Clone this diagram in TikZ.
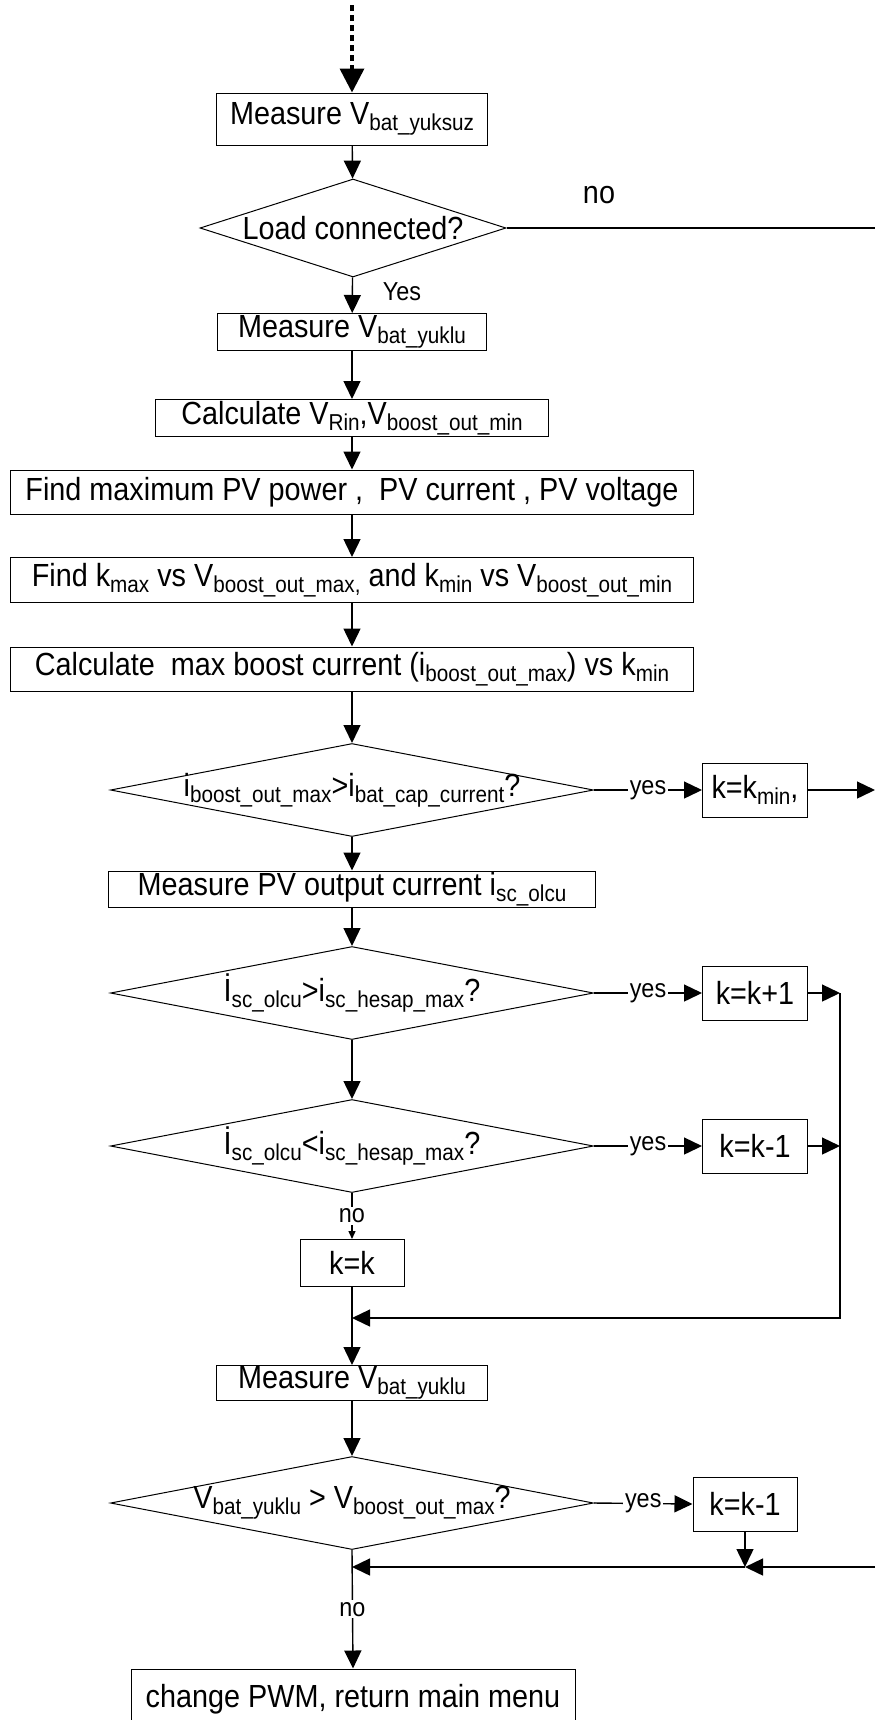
\documentclass[tikz,border=0pt]{standalone}
\usepackage{fontspec}
\setmainfont{Liberation Sans}[FakeStretch=0.9]
\usetikzlibrary{shapes.geometric,arrows.meta}
\newcommand{\sub}[1]{\raisebox{-3pt}{\fontsize{11.5pt}{12pt}\selectfont #1}}

\begin{document}
\begin{tikzpicture}[x=0.5pt,y=-0.5pt,
        font=\fontsize{16pt}{18pt}\selectfont,
        box/.style={draw,line width=0.5pt,inner sep=0pt},
        cond/.style={diamond,draw,line width=0.5pt,inner sep=-4pt,aspect=5.2,
            minimum width=241.5pt,minimum height=46.5pt},
        flow/.style={line width=0.7pt,-{Triangle[length=9pt,width=8.5pt]}},
        lbl/.style={font=\fontsize{13pt}{14pt}\selectfont,fill=white,inner sep=1pt}]
        \useasboundingbox (0,0) rectangle (875,1720);
        % main column
        \node[box,minimum width=135.5pt,minimum height=26pt] (mv1) at (352,119) {Measure V\sub{bat\_yuksuz}};
        \node[cond,aspect=3.1,minimum width=153pt,minimum height=49pt] (load) at (353,228) {Load connected?};
        \node[box,minimum width=134.5pt,minimum height=18.5pt] (mv2) at (352,332) {Measure V\sub{bat\_yuklu}};
        \node[box,minimum width=196.5pt,minimum height=18.5pt] (calc1) at (352,418) {Calculate V\sub{Rin},V\sub{boost\_out\_min}};
        \node[box,minimum width=341.5pt,minimum height=22pt] (pv) at (352,492) {Find maximum PV power ,~~PV current , PV voltage};
        \node[box,minimum width=341.5pt,minimum height=22.5pt] (kfind) at (352,580) {Find k\sub{max} vs V\sub{boost\_out\_max,} and k\sub{min} vs V\sub{boost\_out\_min}};
        \node[box,minimum width=341.5pt,minimum height=22pt] (calc2) at (352,669) {Calculate~~max boost current (i\sub{boost\_out\_max}) vs k\sub{min}};
        \node[cond] (capq) at (352,790) {i\sub{boost\_out\_max}>i\sub{bat\_cap\_current}?};
        \node[box,minimum width=243.5pt,minimum height=18pt] (isc) at (352,889) {Measure PV output current i\sub{sc\_olcu}};
        \node[cond] (gtq) at (352,993) {İ\sub{sc\_olcu}>i\sub{sc\_hesap\_max}?};
        \node[cond] (ltq) at (352,1146) {İ\sub{sc\_olcu}<i\sub{sc\_hesap\_max}?};
        \node[box,minimum width=52pt,minimum height=23.5pt] (keq) at (352,1263) {k=k};
        \node[box,minimum width=135.5pt,minimum height=17.5pt] (mv3) at (352,1383) {Measure V\sub{bat\_yuklu}};
        \node[cond] (vq) at (352,1503) {V\sub{bat\_yuklu} > V\sub{boost\_out\_max}?};
        \node[box,minimum width=222pt,minimum height=30pt] (pwm) at (353,1699) {change PWM, return main menu};
        % side boxes
        \node[box,minimum width=52.5pt,minimum height=27pt] (kmin) at (755,790) {k=k\sub{min},};
        \node[box,minimum width=52.5pt,minimum height=27pt] (kup) at (755,993) {k=k+1};
        \node[box,minimum width=52.5pt,minimum height=27pt] (kdn) at (755,1146) {k=k-1};
        \node[box,minimum width=52pt,minimum height=27pt] (kdn2) at (745,1504) {k=k-1};
        % texts
        \node (no1) at (599,195) {no};
        \node[font=\fontsize{13pt}{14pt}\selectfont] (yes1) at (402,292) {Yes};
        % corner points
        \coordinate (start) at (352,5);
        \coordinate (out1) at (875,228);
        \coordinate (out2) at (875,790);
        \coordinate (ja) at (840,993);
        \coordinate (jb) at (840,1146);
        \coordinate (jc) at (840,1318);
        \coordinate (jd) at (352,1318);
        \coordinate (je) at (745,1567);
        \coordinate (jf) at (352,1567);
        \coordinate (out3) at (875,1567);

        \draw[line width=1.8pt,dash pattern=on 3pt off 2pt,-{Triangle[length=12pt,width=12pt]}] (start) -- (mv1);
        \draw[flow] (mv1) -- (load);
        \draw[line width=0.8pt] (load.east) -- (out1);
        \draw[flow] (load) -- (mv2);
        \draw[flow] (mv2) -- (calc1);
        \draw[flow] (calc1) -- (pv);
        \draw[flow] (pv) -- (kfind);
        \draw[flow] (kfind) -- (calc2);
        \draw[flow] (calc2) -- (capq);
        \draw[flow] (capq) -- (isc);
        \draw[flow] (isc) -- (gtq);
        \draw[flow] (gtq) -- (ltq);
        \draw[flow] (capq.east) -- node[lbl] {yes} (kmin.west);
        \draw[flow] (kmin.east) -- (out2);
        \draw[flow] (gtq.east) -- node[lbl] {yes} (kup.west);
        \draw[flow] (kup.east) -- (ja);
        \draw[flow] (ltq.east) -- node[lbl] {yes} (kdn.west);
        \draw[flow] (kdn.east) -- (jb);
        \draw[line width=0.7pt,-{Triangle[length=4pt,width=3.5pt]}] (ltq.south) -- node[lbl] {no} (keq.north);
        \draw[flow] (ja) -- (jc) -- (jd);
        \draw[flow] (keq) -- (mv3);
        \draw[flow] (mv3) -- (vq);
        \draw[flow] (vq.east) -- node[lbl] {yes} (kdn2.west);
        \draw[flow] (kdn2) -- (je);
        \draw[flow] (out3) -- (je);
        \draw[flow] (je) -- (jf);
        \draw[flow] (vq.south) -- node[lbl] {no} (pwm.north);
\end{tikzpicture}
\end{document}
